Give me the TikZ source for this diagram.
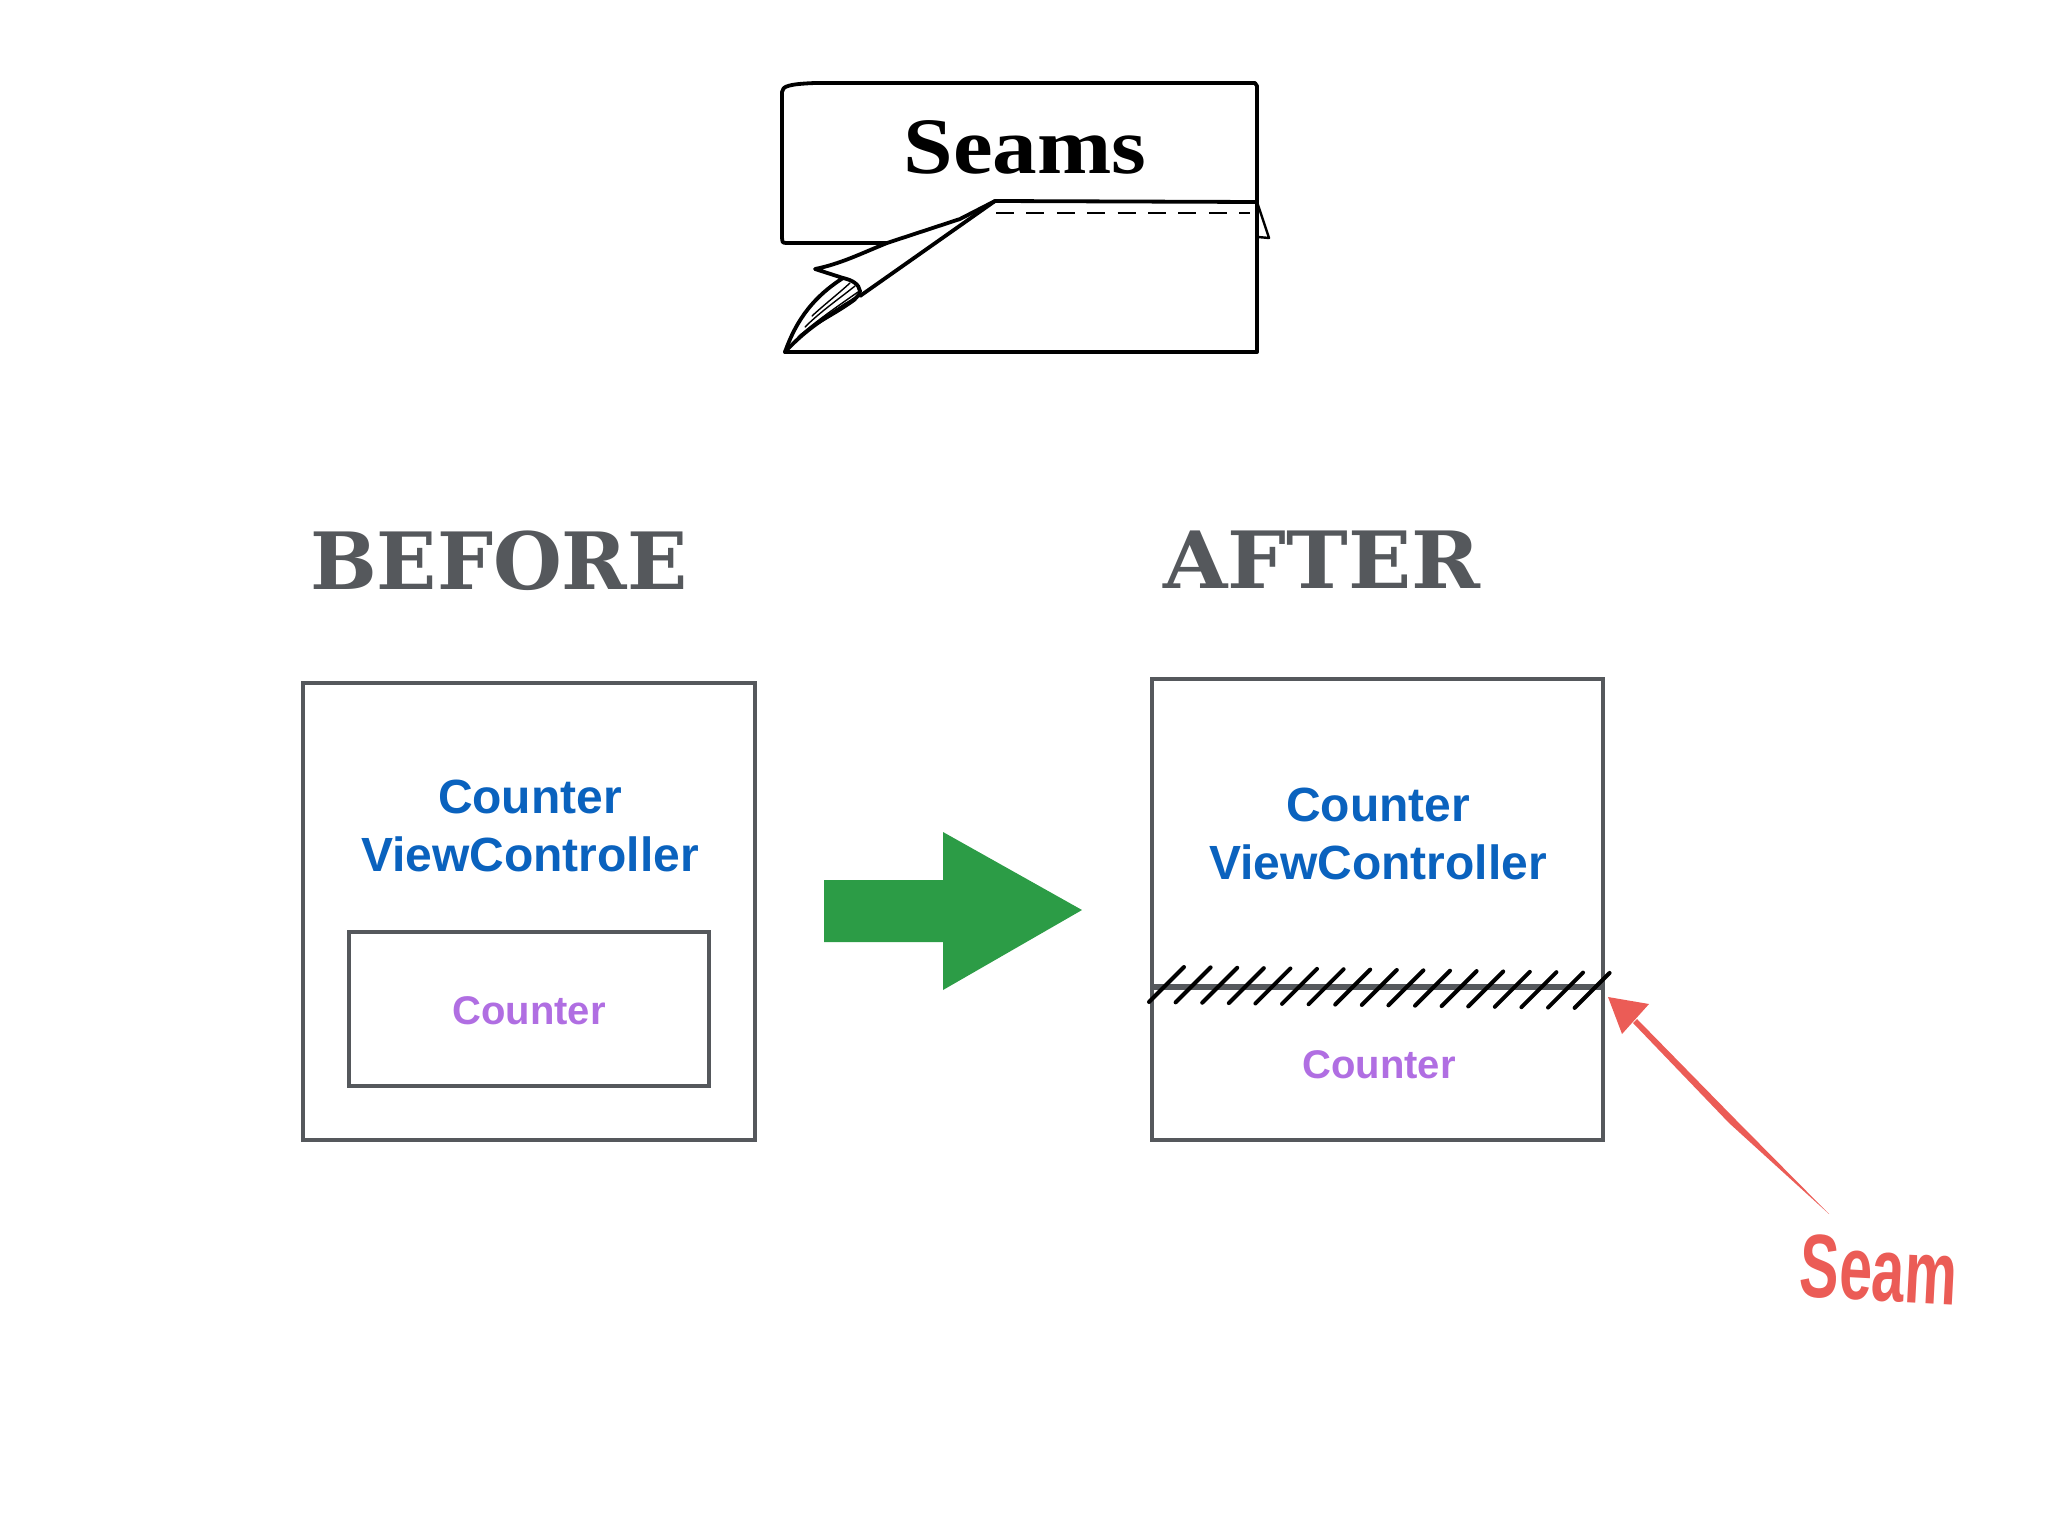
\documentclass[tikz,border=0pt]{standalone}
\usepackage{fontspec}
\usepackage{graphicx}
\setmainfont{Liberation Serif}
\setsansfont{Liberation Sans}
\newfontfamily\headfont{DejaVu Serif}[BoldFont={DejaVu Serif Bold}]
\definecolor{greyline}{HTML}{55585C}
\definecolor{ctrlblue}{HTML}{0A62BE}
\definecolor{cntpurple}{HTML}{B06EE2}
\definecolor{gogreen}{HTML}{2C9C46}
\definecolor{seamred}{HTML}{EB5C56}
\tikzset{
  ink/.style={draw=black,line width=1.9pt,line join=round,line cap=round},
  thinink/.style={draw=black,line width=0.7pt,line cap=round},
  box/.style={draw=greyline,line width=1.9pt,fill=none},
  headtext/.style={anchor=base,inner sep=0pt,text=greyline,font=\headfont\bfseries\fontsize{39.5}{46}\selectfont},
  ctrltext/.style={align=center,inner sep=0pt,text=ctrlblue,font=\sffamily\bfseries\fontsize{24}{29}\selectfont},
  cnttext/.style={inner sep=0pt,text=cntpurple,font=\sffamily\bfseries\fontsize{20}{24}\selectfont},
  hatch/.style={draw=black,line width=2pt,line cap=round},
}
\begin{document}
\begin{tikzpicture}[x=0.5pt,y=-0.5pt]
\useasboundingbox (0,0) rectangle (2048,1536);
% folded banner
\draw[ink] (887,243) -- (786,243) .. controls (782,243) and (782,241) .. (782,238)
  -- (782,92) .. controls (782,86) and (790,84) .. (815,83) -- (1255,83) -- (1257,86) -- (1257,202);
\draw[ink] (1257,202) -- (995,201) -- (960,219) -- (887,243)
  .. controls (860,254) and (840,264) .. (815,269) -- (843,278)
  .. controls (815,296) and (797,318) .. (785,352);
\draw[ink] (995,201) -- (860,296);
\draw[ink] (843,278) .. controls (852,280) and (859,284) .. (860,291)
  .. controls (860,296) and (855,299) .. (845,305) .. controls (825,318) and (805,330) .. (785,352);
\draw[ink] (785,352) -- (1257,352) -- (1257,202);
\draw[ink,line width=1.2pt] (1257,202) -- (1269,238) -- (1258,237);
\draw[thinink] (798,337) .. controls (815,322) and (835,308) .. (858,292);
\draw[thinink] (805,327) .. controls (820,312) and (840,298) .. (855,286);
\draw[thinink] (800,335) .. controls (820,322) and (840,312) .. (856,300);
\draw[thinink] (812,316) .. controls (825,304) and (838,294) .. (850,283);
\draw[draw=black,line width=1.1pt,dash pattern=on 9pt off 6.2pt] (996,213) -- (1250,213);
\node[anchor=base,inner sep=0pt,font=\rmfamily\bfseries\fontsize{40}{48}\selectfont] (title) at (1025,173) {\scalebox{1.115}[1]{Seams}};
% headings
\node[headtext] (before) at (499,589) {BEFORE};
\node[headtext] (after) at (1322,588) {\scalebox{1.05}[1]{AFTER}};
% before box
\draw[box] (303,683) rectangle (755,1140);
\node[ctrltext] (vc1) at (530,826) {Counter\\ViewController};
\draw[box] (349,932) rectangle (709,1086);
\node[cnttext] (c1) at (529,1011) {Counter};
% green arrow
\fill[gogreen] (824,880) -- (943,880) -- (943,832) -- (1082,910) -- (943,990) -- (943,942) -- (824,942) -- cycle;
% after box
\draw[box] (1152,679) rectangle (1603,1140);
\draw[draw=greyline,line width=3pt] (1152,987) -- (1603,987);
\node[ctrltext] (vc2) at (1378,834) {Counter\\ViewController};
\node[cnttext] (c2) at (1379,1065) {Counter};
\foreach \i in {0,...,16}{
  \draw[hatch] ({1149+\i*26.6},{1002+\i*0.37}) -- ({1184+\i*26.6},{967+\i*0.37});
}
% seam arrow
\fill[seamred] (1608,997) -- (1649,1004) -- (1622,1034) -- cycle;
\coordinate (seamtail) at (1829,1214);
\fill[seamred] (1633,1023) -- (1637,1019) -- (1735,1119) -- (1829,1214) -- (1729,1123) -- cycle;
\node[inner sep=0pt,text=seamred,rotate=-3,font=\sffamily\bfseries\fontsize{36}{40}\selectfont] (seam) at (1879,1270) {\scalebox{0.82}[1.25]{Seam}};
\end{tikzpicture}
\end{document}
